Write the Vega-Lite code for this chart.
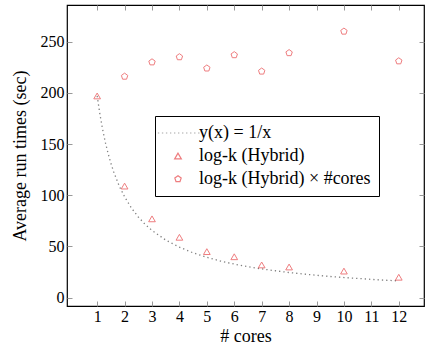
{
  "$schema": "https://vega.github.io/schema/vega-lite/v6.json",
  "width": 357,
  "height": 301,
  "autosize": "none",
  "padding": {"left": 67, "top": 5, "right": 1, "bottom": 47},
  "background": "white",
  "config": {
    "font": "Liberation Serif",
    "view": {"stroke": "black", "strokeWidth": 1.2},
    "legend": {"labelFont": "Liberation Serif"},
    "axis": {"labelFont": "Liberation Serif", "titleFont": "Liberation Serif", "labelFontSize": 16, "titleFontSize": 18, "titleFontWeight": "normal", "labelColor": "black", "titleColor": "black", "grid": false, "domain": false, "tickColor": "#999999", "tickSize": -5, "tickWidth": 1}
  },
  "datasets": {
    "curve": [
      {"x": 1, "y": 197}, {"x": 1.1, "y": 179.1}, {"x": 1.2, "y": 164.2}, {"x": 1.3, "y": 151.5},
      {"x": 1.4, "y": 140.7}, {"x": 1.5, "y": 131.3}, {"x": 1.6, "y": 123.1}, {"x": 1.8, "y": 109.4},
      {"x": 2, "y": 98.5}, {"x": 2.25, "y": 87.6}, {"x": 2.5, "y": 78.8}, {"x": 2.75, "y": 71.6},
      {"x": 3, "y": 65.7}, {"x": 3.5, "y": 56.3}, {"x": 4, "y": 49.3}, {"x": 4.5, "y": 43.8},
      {"x": 5, "y": 39.4}, {"x": 5.5, "y": 35.8}, {"x": 6, "y": 32.8}, {"x": 6.5, "y": 30.3},
      {"x": 7, "y": 28.1}, {"x": 7.5, "y": 26.3}, {"x": 8, "y": 24.6}, {"x": 8.5, "y": 23.2},
      {"x": 9, "y": 21.9}, {"x": 9.5, "y": 20.7}, {"x": 10, "y": 19.7}, {"x": 10.5, "y": 18.8},
      {"x": 11, "y": 17.9}, {"x": 11.5, "y": 17.1}, {"x": 12, "y": 16.4}
    ],
    "points": [
      {"cores": 1, "time": 197, "series": "log-k (Hybrid)"},
      {"cores": 2, "time": 109, "series": "log-k (Hybrid)"},
      {"cores": 3, "time": 77, "series": "log-k (Hybrid)"},
      {"cores": 4, "time": 59, "series": "log-k (Hybrid)"},
      {"cores": 5, "time": 45, "series": "log-k (Hybrid)"},
      {"cores": 6, "time": 40, "series": "log-k (Hybrid)"},
      {"cores": 7, "time": 32, "series": "log-k (Hybrid)"},
      {"cores": 8, "time": 30, "series": "log-k (Hybrid)"},
      {"cores": 10, "time": 26, "series": "log-k (Hybrid)"},
      {"cores": 12, "time": 20, "series": "log-k (Hybrid)"},
      {"cores": 2, "time": 216, "series": "log-k (Hybrid) × #cores"},
      {"cores": 3, "time": 230, "series": "log-k (Hybrid) × #cores"},
      {"cores": 4, "time": 235, "series": "log-k (Hybrid) × #cores"},
      {"cores": 5, "time": 224, "series": "log-k (Hybrid) × #cores"},
      {"cores": 6, "time": 237, "series": "log-k (Hybrid) × #cores"},
      {"cores": 7, "time": 221, "series": "log-k (Hybrid) × #cores"},
      {"cores": 8, "time": 239, "series": "log-k (Hybrid) × #cores"},
      {"cores": 10, "time": 260, "series": "log-k (Hybrid) × #cores"},
      {"cores": 12, "time": 231, "series": "log-k (Hybrid) × #cores"}
    ]
  },
  "resolve": {"axis": {"x": "independent", "y": "independent"}},
  "layer": [
    {
      "data": {"name": "curve"},
      "mark": {"type": "line", "color": "#808080", "strokeWidth": 1.3, "strokeDash": [1.3, 3]},
      "encoding": {
        "x": {"field": "x", "type": "quantitative", "scale": {"domain": [-0.1, 12.92], "nice": false, "zero": false},
              "axis": {"orient": "bottom", "values": [1,2,3,4,5,6,7,8,9,10,11,12], "title": "# cores", "labelPadding": 7, "titlePadding": 3}},
        "y": {"field": "y", "type": "quantitative", "scale": {"domain": [-8.1, 285.8], "nice": false, "zero": false},
              "axis": {"orient": "left", "values": [0, 50, 100, 150, 200, 250], "title": "Average run times (sec)", "labelPadding": 8, "titlePadding": 11}}
      }
    },
    {
      "data": {"name": "points"},
      "mark": {"type": "point", "filled": false, "strokeWidth": 1, "size": 45},
      "encoding": {
        "x": {"field": "cores", "type": "quantitative",
              "axis": {"orient": "top", "values": [1,2,3,4,5,6,7,8,9,10,11,12], "labels": false, "title": null}},
        "y": {"field": "time", "type": "quantitative",
              "axis": {"orient": "right", "values": [0, 50, 100, 150, 200, 250], "labels": false, "title": null}},
        "color": {"field": "series", "type": "nominal",
                  "scale": {"domain": ["y(x) = 1/x", "log-k (Hybrid)", "log-k (Hybrid) × #cores"], "range": ["#808080", "#e8474a", "#e8474a"]},
                  "legend": {"orient": "none", "legendX": 88, "legendY": 111, "title": null, "strokeColor": "black", "fillColor": "white", "padding": 8,
                             "labelFontSize": 18, "labelLimit": 400, "labelColor": "black", "rowPadding": 5, "symbolOffset": 6, "labelOffset": 12, "symbolStrokeWidth": 1.2, "symbolSize": 45}},
        "shape": {"field": "series", "type": "nominal",
                  "scale": {"domain": ["y(x) = 1/x", "log-k (Hybrid)", "log-k (Hybrid) × #cores"],
                            "range": ["M-6,0h0.4M-4.8,0h0.4M-3.6,0h0.4M-2.4,0h0.4M-1.2,0h0.4M0,0h0.4M1.2,0h0.4M2.4,0h0.4M3.6,0h0.4M4.8,0h0.4M6,0h0.4", "triangle-up", "M0,-1L0.951,-0.309L0.588,0.809L-0.588,0.809L-0.951,-0.309Z"]}}
      }
    }
  ]
}
